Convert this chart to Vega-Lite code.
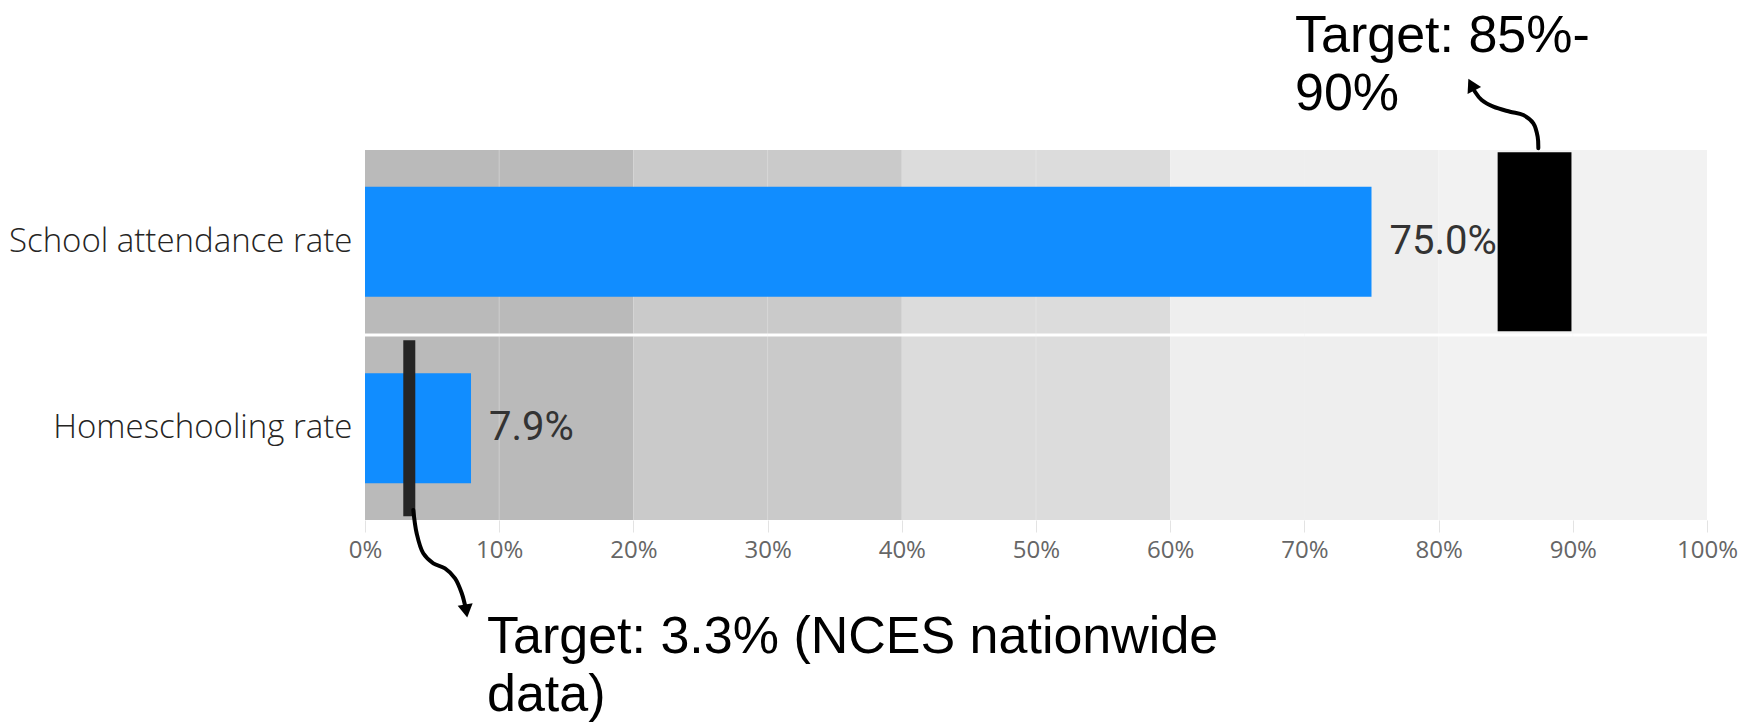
{
  "$schema": "https://vega.github.io/schema/vega-lite/v6.json",
  "width": 1342,
  "height": 370,
  "autosize": {"type": "none"},
  "padding": {"left": 365, "top": 150, "right": 49, "bottom": 205},
  "background": "white",
  "config": {
    "view": {"stroke": null},
    "axis": {"grid": false},
    "axisX": {"labelFont": "Open Sans", "labelFontSize": 24, "labelColor": "#666666", "tickColor": "#e3e3e3", "tickSize": 12, "domain": false, "labelPadding": 6, "labelFlush": false, "labelOverlap": false},
    "axisY": {"labelFont": "Open Sans", "labelFontSize": 33, "labelFontWeight": 300, "labelColor": "#252423", "ticks": false, "domain": false, "labelPadding": 13, "labelLimit": 1000}
  },
  "datasets": {
    "rows": [
      {"metric": "School attendance rate", "value": 75.0, "label": "75.0%"},
      {"metric": "Homeschooling rate", "value": 7.9, "label": "7.9%"}
    ],
    "bands": [
      {"metric": "School attendance rate", "lo": 0, "hi": 20, "level": "0-20"},
      {"metric": "School attendance rate", "lo": 20, "hi": 40, "level": "20-40"},
      {"metric": "School attendance rate", "lo": 40, "hi": 60, "level": "40-60"},
      {"metric": "School attendance rate", "lo": 60, "hi": 80, "level": "60-80"},
      {"metric": "School attendance rate", "lo": 80, "hi": 100, "level": "80-100"},
      {"metric": "Homeschooling rate", "lo": 0, "hi": 20, "level": "0-20"},
      {"metric": "Homeschooling rate", "lo": 20, "hi": 40, "level": "20-40"},
      {"metric": "Homeschooling rate", "lo": 40, "hi": 60, "level": "40-60"},
      {"metric": "Homeschooling rate", "lo": 60, "hi": 80, "level": "60-80"},
      {"metric": "Homeschooling rate", "lo": 80, "hi": 100, "level": "80-100"}
    ],
    "grid": [{"g": 10}, {"g": 30}, {"g": 50}, {"g": 70}, {"g": 90}],
    "targets": [
      {"metric": "School attendance rate", "lo": 84.4, "hi": 89.9},
      {"metric": "Homeschooling rate", "lo": 3.3, "hi": 3.3}
    ],
    "arrows": [
      {"arrow": "top", "i": 1, "x": 87.43, "y": -0.009},
      {"arrow": "top", "i": 2, "x": 87.38, "y": -0.072},
      {"arrow": "top", "i": 3, "x": 87.06, "y": -0.144},
      {"arrow": "top", "i": 4, "x": 86.31, "y": -0.189},
      {"arrow": "top", "i": 5, "x": 85.32, "y": -0.207},
      {"arrow": "top", "i": 6, "x": 84.08, "y": -0.234},
      {"arrow": "top", "i": 7, "x": 83.21, "y": -0.27},
      {"arrow": "top", "i": 8, "x": 82.71, "y": -0.315},
      {"arrow": "top", "i": 9, "x": 82.5, "y": -0.345},
      {"arrow": "bottom", "i": 1, "x": 3.6, "y": 1.946},
      {"arrow": "bottom", "i": 2, "x": 3.85, "y": 2.072},
      {"arrow": "bottom", "i": 3, "x": 4.34, "y": 2.18},
      {"arrow": "bottom", "i": 4, "x": 5.09, "y": 2.234},
      {"arrow": "bottom", "i": 5, "x": 5.96, "y": 2.261},
      {"arrow": "bottom", "i": 6, "x": 6.71, "y": 2.315},
      {"arrow": "bottom", "i": 7, "x": 7.21, "y": 2.396},
      {"arrow": "bottom", "i": 8, "x": 7.53, "y": 2.486}
    ],
    "heads": [
      {"arrow": "top", "x": 82.44, "y": -0.353},
      {"arrow": "bottom", "x": 7.54, "y": 2.492}
    ],
    "notes": [
      {"note": "Target: 85%-\n90%", "x": 69.3, "y": -0.53},
      {"note": "Target: 3.3% (NCES nationwide\ndata)", "x": 9.09, "y": 2.719}
    ]
  },
  "layer": [
    {
      "layer": [
        {
          "data": {"name": "bands"},
          "mark": {"type": "bar"},
          "encoding": {
            "y": {"field": "metric", "type": "nominal", "sort": ["School attendance rate", "Homeschooling rate"], "scale": {"paddingInner": 0.016, "paddingOuter": 0}, "title": null},
            "x": {"field": "lo", "type": "quantitative", "scale": {"domain": [0, 100], "nice": false}, "title": null, "axis": {"values": [0, 10, 20, 30, 40, 50, 60, 70, 80, 90, 100], "labelExpr": "datum.value + '%'"}},
            "x2": {"field": "hi"},
            "color": {"field": "level", "type": "nominal", "scale": {"domain": ["0-20", "20-40", "40-60", "60-80", "80-100"], "range": ["#bababa", "#cacaca", "#dcdcdc", "#eeeeee", "#f2f2f2"]}, "legend": null}
          }
        },
        {
          "data": {"name": "grid"},
          "mark": {"type": "rule", "color": "#f0f0f0", "strokeWidth": 1, "opacity": 0.35},
          "encoding": {
            "x": {"field": "g", "type": "quantitative", "title": null}
          }
        },
        {
          "data": {"name": "rows"},
          "mark": {"type": "bar", "color": "#118DFF", "height": {"band": 0.6}},
          "encoding": {
            "y": {"field": "metric", "type": "nominal", "sort": ["School attendance rate", "Homeschooling rate"], "title": null},
            "x": {"field": "value", "type": "quantitative", "title": null}
          }
        },
        {
          "data": {"name": "rows"},
          "mark": {"type": "text", "align": "left", "baseline": "middle", "dx": 18, "font": "Roboto", "fontSize": 40, "color": "#333333"},
          "encoding": {
            "y": {"field": "metric", "type": "nominal", "sort": ["School attendance rate", "Homeschooling rate"], "title": null},
            "x": {"field": "value", "type": "quantitative", "title": null},
            "text": {"field": "label"}
          }
        },
        {
          "data": {"name": "targets"},
          "transform": [{"filter": "datum.metric === 'School attendance rate'"}],
          "mark": {"type": "bar", "color": "#000000", "height": {"band": 0.975}},
          "encoding": {
            "y": {"field": "metric", "type": "nominal", "sort": ["School attendance rate", "Homeschooling rate"], "title": null},
            "x": {"field": "lo", "type": "quantitative", "title": null},
            "x2": {"field": "hi"}
          }
        },
        {
          "data": {"name": "targets"},
          "transform": [{"filter": "datum.metric === 'Homeschooling rate'"}],
          "mark": {"type": "tick", "color": "#252525", "thickness": 12, "size": 176, "orient": "vertical", "opacity": 1},
          "encoding": {
            "y": {"field": "metric", "type": "nominal", "sort": ["School attendance rate", "Homeschooling rate"], "title": null},
            "x": {"field": "lo", "type": "quantitative", "title": null}
          }
        }
      ]
    },
    {
      "layer": [
        {
          "data": {"name": "arrows"},
          "mark": {"type": "line", "color": "#000000", "strokeWidth": 4, "strokeCap": "round", "interpolate": "catmull-rom"},
          "encoding": {
            "x": {"field": "x", "type": "quantitative", "title": null},
            "y": {"field": "y", "type": "quantitative", "scale": {"domain": [0, 2], "reverse": true, "nice": false, "zero": false}, "axis": null},
            "detail": {"field": "arrow"},
            "order": {"field": "i"}
          }
        },
        {
          "data": {"name": "heads"},
          "transform": [{"filter": "datum.arrow === 'top'"}],
          "mark": {"type": "point", "shape": "triangle-up", "filled": true, "color": "#000000", "opacity": 1, "size": 230, "angle": -27},
          "encoding": {
            "x": {"field": "x", "type": "quantitative", "title": null},
            "y": {"field": "y", "type": "quantitative", "axis": null}
          }
        },
        {
          "data": {"name": "heads"},
          "transform": [{"filter": "datum.arrow === 'bottom'"}],
          "mark": {"type": "point", "shape": "triangle-up", "filled": true, "color": "#000000", "opacity": 1, "size": 230, "angle": 171},
          "encoding": {
            "x": {"field": "x", "type": "quantitative", "title": null},
            "y": {"field": "y", "type": "quantitative", "axis": null}
          }
        },
        {
          "data": {"name": "notes"},
          "mark": {"type": "text", "align": "left", "baseline": "alphabetic", "font": "Liberation Sans", "fontSize": 52, "lineHeight": 58, "lineBreak": "\n", "color": "#000000"},
          "encoding": {
            "x": {"field": "x", "type": "quantitative", "title": null},
            "y": {"field": "y", "type": "quantitative", "axis": null},
            "text": {"field": "note"}
          }
        }
      ]
    }
  ],
  "resolve": {"scale": {"y": "independent"}, "axis": {"y": "independent"}}
}
